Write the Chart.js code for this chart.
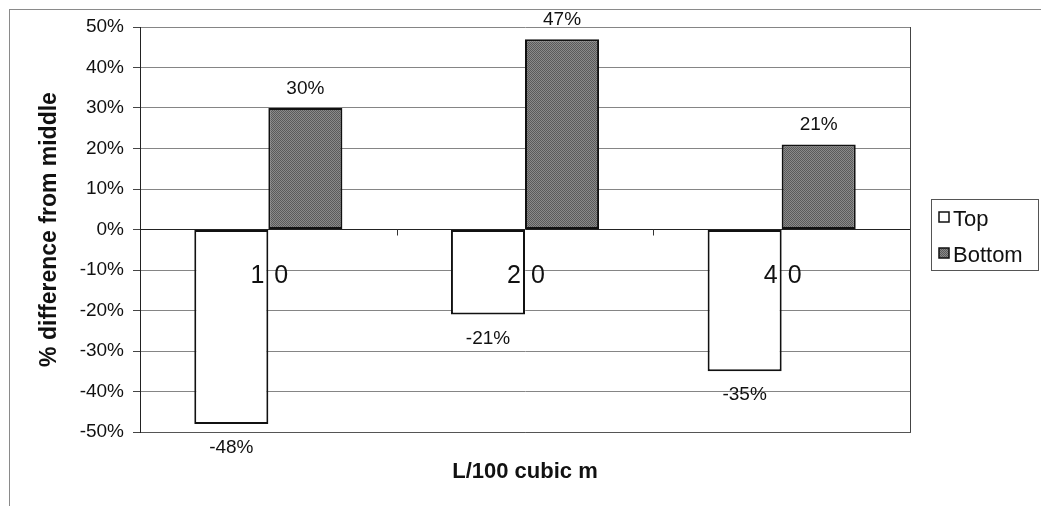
<!DOCTYPE html>
<html>
<head>
<meta charset="utf-8">
<script src="https://cdn.jsdelivr.net/npm/chart.js@4"></script>
<style>
  html, body { margin: 0; padding: 0; background: #fff; }
  #wrap { width: 1041px; height: 506px; }
</style>
</head>
<body>
<div id="wrap"><canvas id="diffChart" width="1041" height="506"></canvas></div>
<script>
  const FONT = 'Arial, "Liberation Sans", sans-serif';

  // data
  const categories = ['10', '20', '40'];
  const seriesNames = ['Top', 'Bottom'];
  const topValues = [-0.48, -0.21, -0.35];
  const bottomValues = [0.30, 0.47, 0.21];
  const yMin = -0.5;
  const yMax = 0.5;
  const yStep = 0.1;

  const pct = (v) => Math.round(v * 100) + '%';

  // dotted grey fill like the old excel pattern
  const patCanvas = document.createElement('canvas');
  patCanvas.width = 2;
  patCanvas.height = 2;
  const pg = patCanvas.getContext('2d');
  pg.fillStyle = '#8a8a8a';
  pg.fillRect(0, 0, 2, 2);
  pg.fillStyle = '#5a5a5a';
  pg.fillRect(0, 0, 1, 1);
  pg.fillRect(1, 1, 1, 1);
  const greyPattern = pg.createPattern(patCanvas, 'repeat');

  // outer frame + right edge of plot
  const framePlugin = {
    id: 'framePlugin',
    beforeDraw(chart) {
      const ctx = chart.ctx;
      ctx.save();
      ctx.fillStyle = '#fff';
      ctx.fillRect(0, 0, chart.width, chart.height);
      ctx.strokeStyle = '#8a8a8a';
      ctx.lineWidth = 1;
      ctx.strokeRect(9.5, 9.5, chart.width + 20, chart.height + 20);
      ctx.restore();
    },
    afterDatasetsDraw(chart) {
      const { ctx, chartArea, scales: { x, y } } = chart;
      ctx.save();
      ctx.strokeStyle = '#444';
      ctx.lineWidth = 1;
      ctx.beginPath();
      ctx.moveTo(Math.round(chartArea.right) + 0.5, chartArea.top);
      ctx.lineTo(Math.round(chartArea.right) + 0.5, chartArea.bottom);
      ctx.stroke();

      // little ticks on the zero line between categories
      const y0 = y.getPixelForValue(0);
      ctx.strokeStyle = '#333';
      ctx.beginPath();
      for (let i = 0; i < categories.length - 1; i++) {
        const bx = Math.round((x.getPixelForValue(i) + x.getPixelForValue(i + 1)) / 2) + 0.5;
        ctx.moveTo(bx, y0);
        ctx.lineTo(bx, y0 + 6);
      }
      ctx.stroke();
      ctx.restore();
    },
  };

  // value labels above / below bars
  const valueLabels = {
    id: 'valueLabels',
    afterDatasetsDraw(chart) {
      const ctx = chart.ctx;
      ctx.save();
      ctx.font = '19px ' + FONT;
      ctx.fillStyle = '#111';
      ctx.textAlign = 'center';
      ctx.textBaseline = 'alphabetic';
      chart.data.datasets.forEach((ds, di) => {
        const meta = chart.getDatasetMeta(di);
        meta.data.forEach((bar, i) => {
          const v = ds.data[i];
          const ty = v >= 0 ? bar.y - 14 : bar.y + 29;
          ctx.fillText(pct(v), bar.x, ty);
        });
      });
      ctx.restore();
    },
  };

  // big category labels sitting under the zero line
  const categoryLabels = {
    id: 'categoryLabels',
    afterDatasetsDraw(chart) {
      const { ctx, scales: { x, y } } = chart;
      const baseY = y.getPixelForValue(0) + 53;
      ctx.save();
      ctx.font = '25px ' + FONT;
      ctx.fillStyle = '#111';
      ctx.textAlign = 'center';
      ctx.textBaseline = 'alphabetic';
      if ('letterSpacing' in ctx) ctx.letterSpacing = '10px';
      categories.forEach((c, i) => {
        ctx.fillText(c, x.getPixelForValue(i) + 6, baseY);
      });
      ctx.restore();
    },
  };

  // boxed legend on the right
  const boxLegend = {
    id: 'boxLegend',
    afterDraw(chart) {
      const ctx = chart.ctx;
      ctx.save();
      ctx.strokeStyle = '#555';
      ctx.lineWidth = 1;
      ctx.strokeRect(931.5, 199.5, 107, 71);
      ctx.font = '22px ' + FONT;
      ctx.textAlign = 'left';
      ctx.textBaseline = 'alphabetic';
      chart.data.datasets.forEach((ds, i) => {
        const cy = 217 + i * 36;
        ctx.fillStyle = ds.backgroundColor;
        ctx.fillRect(939, cy - 5, 10, 10);
        ctx.strokeStyle = '#111';
        ctx.lineWidth = 1.5;
        ctx.strokeRect(939, cy - 5, 10, 10);
        ctx.fillStyle = '#111';
        ctx.fillText(ds.label, 953, cy + 9);
      });
      ctx.restore();
    },
  };

  const ctx = document.getElementById('diffChart').getContext('2d');

  new Chart(ctx, {
    type: 'bar',
    data: {
      labels: categories,
      datasets: [
        {
          label: seriesNames[0],
          data: topValues,
          backgroundColor: '#ffffff',
          borderColor: '#111',
          borderWidth: 2,
          borderSkipped: false,
        },
        {
          label: seriesNames[1],
          data: bottomValues,
          backgroundColor: greyPattern,
          borderColor: '#111',
          borderWidth: 2,
          borderSkipped: false,
        },
      ],
    },
    options: {
      responsive: false,
      animation: false,
      devicePixelRatio: 1,
      categoryPercentage: 0.577,
      barPercentage: 1.0,
      layout: {
        padding: { left: 0, right: 131, top: 27, bottom: 0 },
      },
      plugins: {
        legend: { display: false },
        tooltip: { enabled: false },
      },
      scales: {
        x: {
          grid: { display: false, drawTicks: false },
          border: { display: true, color: '#555' },
          ticks: { display: false },
          title: {
            display: true,
            text: 'L/100 cubic m',
            color: '#111',
            font: { family: FONT, size: 22, weight: 'bold' },
            padding: { top: 0, bottom: 21 },
          },
          afterFit(scale) {
            scale.height = 74;
          },
        },
        y: {
          min: yMin,
          max: yMax,
          ticks: {
            stepSize: yStep,
            callback: (v) => pct(v),
            color: '#111',
            font: { family: FONT, size: 19 },
            padding: 9,
          },
          grid: {
            color: (c) => (c.tick && Math.abs(c.tick.value) < 1e-9 ? '#222' : '#858585'),
            tickColor: '#444',
            tickLength: 7,
          },
          border: { color: '#222' },
          title: {
            display: true,
            text: '% difference from middle',
            color: '#111',
            font: { family: FONT, size: 23, weight: 'bold' },
            padding: { top: 36, bottom: 0 },
          },
          afterFit(scale) {
            scale.width = 140;
          },
        },
      },
    },
    plugins: [framePlugin, valueLabels, categoryLabels, boxLegend],
  });
</script>
</body>
</html>
